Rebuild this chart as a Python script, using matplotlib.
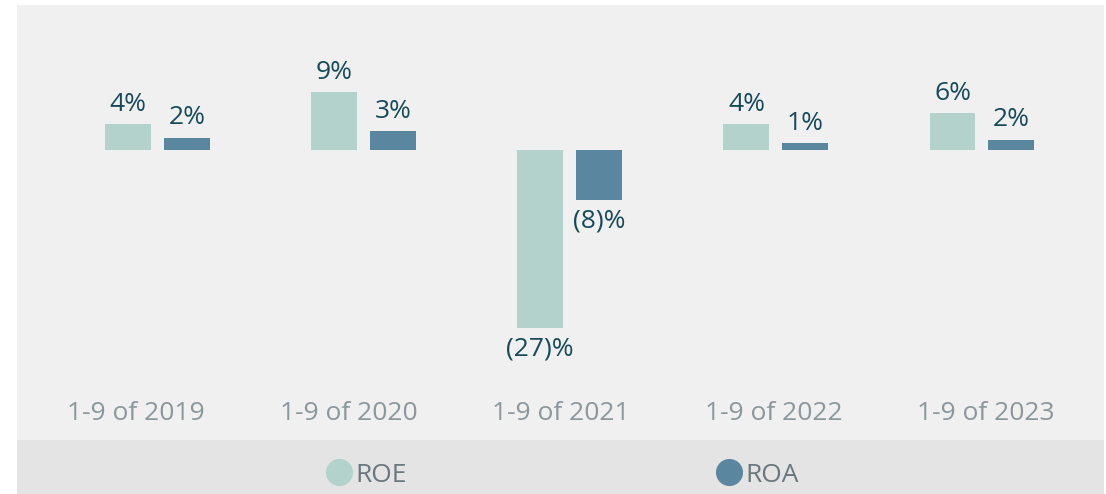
import numpy as np
import matplotlib.pyplot as plt
from matplotlib.lines import Line2D
from matplotlib.patches import Rectangle

plt.rcParams['font.family'] = ['Open Sans', 'DejaVu Sans']

categories = ["1-9 of 2019", "1-9 of 2020", "1-9 of 2021", "1-9 of 2022", "1-9 of 2023"]
roe = [4.0, 8.9, -27.4, 4.0, 5.7]
roa = [1.9, 2.9, -7.7, 1.1, 1.6]
roe_labels = ["4%", "9%", "(27)%", "4%", "6%"]
roa_labels = ["2%", "3%", "(8)%", "1%", "2%"]

ROE_COLOR = '#b2d2cb'
ROA_COLOR = '#5b86a0'
LABEL_COLOR = '#17495a'
CAT_COLOR = '#8c979c'
LEGEND_COLOR = '#69777c'

W, H = 1106, 494
fig = plt.figure(figsize=(W / 100, H / 100), dpi=100)
fig.patch.set_facecolor('white')

# plot panel in pixel terms: x 17..1104, y 5..440 (from top)
ax = fig.add_axes([17 / W, (H - 440) / H, (1104 - 17) / W, (440 - 5) / H])
ax.set_facecolor('#f0f0f0')

# legend band
fig.patches.append(Rectangle((17 / W, 0), (1104 - 17) / W, (H - 440) / H,
                             transform=fig.transFigure, facecolor='#e4e4e4',
                             edgecolor='none', zorder=0))

x = np.arange(len(categories))
bw = 0.223
off = 0.143
b1 = ax.bar(x - off, roe, bw, color=ROE_COLOR, label='ROE', zorder=2)
b2 = ax.bar(x + off, roa, bw, color=ROA_COLOR, label='ROA', zorder=2)

for bars, labels in ((b1, roe_labels), (b2, roa_labels)):
    for rect, lab in zip(bars, labels):
        v = rect.get_height()
        cx = rect.get_x() + rect.get_width() / 2
        if v >= 0:
            ax.annotate(lab, (cx, v), xytext=(0, 9.5), textcoords='offset points',
                        ha='center', va='baseline', fontsize=19, color=LABEL_COLOR)
        else:
            ax.annotate(lab, (cx, v), xytext=(0, -6), textcoords='offset points',
                        ha='center', va='top', fontsize=19, color=LABEL_COLOR)

ax.set_xlim(-0.682, 4.592)
ax.set_ylim(-44.6, 22.3)

# category labels sit inside the panel, slightly spread
ax.set_xticks(-0.104 + 1.031 * x)
ax.set_xticklabels(categories, fontsize=19, color=CAT_COLOR)
ax.tick_params(axis='x', length=0, pad=-28)
ax.set_yticks([])
for s in ax.spines.values():
    s.set_visible(False)

handles = [Line2D([], [], marker='o', linestyle='none', markersize=19.5,
                  markerfacecolor=ROE_COLOR, markeredgecolor='none'),
           Line2D([], [], marker='o', linestyle='none', markersize=19.5,
                  markerfacecolor=ROA_COLOR, markeredgecolor='none')]
leg = fig.legend(handles, ['ROE', 'ROA'], ncol=2, loc='center left',
                 bbox_to_anchor=(326 / W, (H - 475) / H), frameon=False,
                 fontsize=19, handlelength=1.0, handletextpad=0.12,
                 columnspacing=11.7, borderpad=0, borderaxespad=0)
for t in leg.get_texts():
    t.set_color(LEGEND_COLOR)

fig.savefig('out.png', dpi=100)
